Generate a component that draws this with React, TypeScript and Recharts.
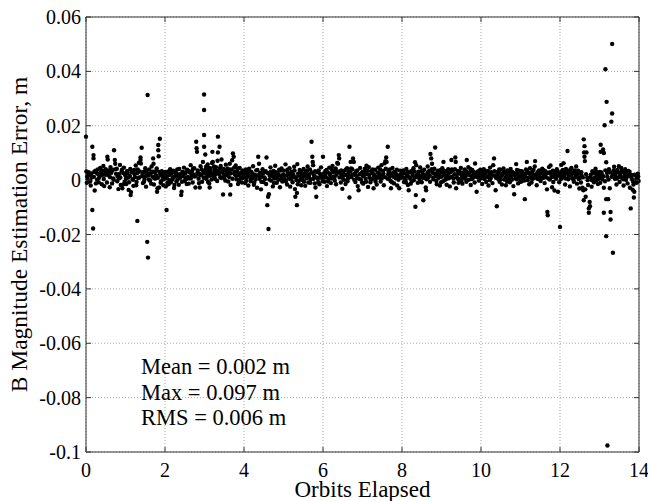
import React from 'react'
import {
  ScatterChart,
  Scatter,
  XAxis,
  YAxis,
  CartesianGrid,
  ReferenceArea,
} from 'recharts'

// B-field magnitude estimation error vs. orbits elapsed (MATLAB-style scatter).
// Points are [orbits, error in mm], one array per orbit.

const orbit0 = [
  [0.0, 16.0], [0.01, 3.2], [0.02, -1.0], [0.04, 0.5], [0.06, 2.1], [0.08, -0.5], [0.1, 1.8], [0.12, -2.0],
  [0.14, 2.5], [0.16, 12.3], [0.16, -11.0], [0.18, -17.8], [0.19, 9.2], [0.19, 8.0], [0.2, 1.2], [0.22, -3.8],
  [0.24, 3.5], [0.26, 2.8], [0.28, 0.2], [0.3, 3.9], [0.32, -0.8], [0.34, 2.2], [0.36, 4.5], [0.38, 3.0],
  [0.4, -1.5], [0.42, 2.0], [0.44, 5.2], [0.46, -2.2], [0.48, 3.3], [0.5, 4.0], [0.52, 2.4], [0.54, 8.6],
  [0.55, 7.6], [0.56, 1.9], [0.58, 3.6], [0.6, -2.6], [0.62, 4.8], [0.64, 2.7], [0.66, -1.2], [0.68, 3.8],
  [0.7, 0.1], [0.71, 11.0], [0.73, 7.4], [0.74, 6.0], [0.76, 2.3], [0.78, 4.2], [0.8, 1.3], [0.82, -3.3],
  [0.84, 0.7], [0.86, 5.6], [0.88, -1.8], [0.9, 3.1], [0.92, -3.0], [0.94, 2.6], [0.96, 4.6], [0.98, -0.6],
  [0.03, 1.4], [0.07, 2.9], [0.11, -0.3], [0.15, 1.0], [0.21, 3.1], [0.25, -1.2], [0.29, 2.3], [0.33, 0.9],
  [0.37, 1.7], [0.41, 3.6], [0.45, 0.4], [0.49, 2.0], [0.53, -0.9], [0.57, 2.6], [0.61, 1.1], [0.65, 3.4],
  [0.69, 0.6], [0.75, 4.0], [0.79, -0.4], [0.83, 2.2], [0.87, 1.0], [0.91, 3.8], [0.95, -1.5], [0.99, 1.9],
]
const orbit1 = [
  [1.0, 2.2], [1.02, -1.4], [1.04, 3.4], [1.06, 0.9], [1.08, -3.6], [1.1, 1.6], [1.12, 4.1], [1.13, -5.5],
  [1.14, -4.4], [1.16, 2.9], [1.18, 0.3], [1.2, -2.1], [1.22, 3.7], [1.24, 1.1], [1.26, 5.4], [1.28, -0.7],
  [1.3, -15.0], [1.3, 2.6], [1.32, 0.8], [1.34, 6.4], [1.36, 3.2], [1.38, 8.3], [1.38, 7.4], [1.39, 6.1],
  [1.41, 11.9], [1.42, 1.5], [1.44, -1.1], [1.46, 3.0], [1.48, 0.4], [1.5, 4.4], [1.52, -2.4], [1.54, 2.1],
  [1.55, -22.7], [1.56, 31.3], [1.57, -28.5], [1.58, 1.7], [1.6, 3.9], [1.62, -0.2], [1.64, 2.5], [1.66, 5.0],
  [1.68, 1.2], [1.7, 8.0], [1.71, 6.0], [1.72, -1.6], [1.74, 2.8], [1.76, 0.6], [1.78, 3.6], [1.8, -4.3],
  [1.81, -3.0], [1.83, 12.9], [1.83, 11.0], [1.84, 8.8], [1.85, -2.7], [1.87, 15.2], [1.88, 2.0], [1.9, -0.4],
  [1.92, 3.3], [1.94, 1.0], [1.96, -1.9], [1.98, 2.7],
  [1.01, 0.5], [1.05, 2.7], [1.09, -0.8], [1.11, 1.3], [1.15, 3.6], [1.19, 0.1], [1.23, 2.2], [1.27, -1.9],
  [1.31, 3.9], [1.35, 1.0], [1.43, 2.8], [1.47, -0.6], [1.51, 1.4], [1.53, 3.4], [1.59, 0.2], [1.61, 2.4],
  [1.65, -1.3], [1.69, 3.1], [1.73, 0.7], [1.77, 1.8], [1.79, 4.3], [1.82, 0.9], [1.86, 3.0], [1.89, -1.0],
  [1.93, 2.1], [1.97, 0.3],
]
const orbit2 = [
  [2.0, 1.4], [2.02, -2.3], [2.04, -11.0], [2.05, 0.6], [2.07, 3.1], [2.09, -1.5], [2.11, 1.9], [2.13, 4.0],
  [2.15, -0.8], [2.17, 2.4], [2.19, 0.2], [2.21, 3.5], [2.23, -2.9], [2.25, 1.3], [2.27, 2.8], [2.29, -0.5],
  [2.31, 3.9], [2.33, 1.7], [2.35, -1.7], [2.37, 2.2], [2.39, 0.9], [2.41, -5.5], [2.42, -4.3], [2.44, 3.0],
  [2.46, 1.5], [2.48, 4.6], [2.5, -0.3], [2.52, 2.6], [2.54, 0.4], [2.56, 3.8], [2.58, 1.2], [2.6, -1.3],
  [2.62, 2.9], [2.65, 5.5], [2.66, 0.8], [2.68, 3.3], [2.7, -0.9], [2.72, 2.1], [2.74, 4.4], [2.77, -2.7],
  [2.78, 1.6], [2.79, 14.1], [2.8, 11.7], [2.81, 10.4], [2.83, 3.6], [2.85, 0.5], [2.87, 2.4], [2.88, -2.7],
  [2.9, 5.1], [2.92, 1.9], [2.94, -0.6], [2.96, 6.7], [2.97, 3.0], [2.99, 12.3], [2.99, 16.6], [2.99, 25.8],
  [2.99, 31.5],
  [2.01, 3.0], [2.03, 0.8], [2.06, -1.0], [2.08, 2.2], [2.12, 0.0], [2.16, 3.3], [2.2, 1.1], [2.24, -1.8],
  [2.28, 2.5], [2.32, 0.3], [2.36, 4.1], [2.4, 1.9], [2.43, -0.6], [2.47, 2.9], [2.51, 1.0], [2.55, -1.4],
  [2.59, 3.5], [2.63, 0.6], [2.67, 2.0], [2.71, 4.2], [2.75, 1.3], [2.82, 2.6], [2.86, -1.1], [2.89, 1.8],
  [2.93, 3.9], [2.98, 0.9],
]
const orbit3 = [
  [3.01, 2.4], [3.02, 9.4], [3.04, 4.9], [3.06, 1.2], [3.08, 5.8], [3.1, 3.1], [3.12, -1.2], [3.13, -2.7],
  [3.15, 4.4], [3.17, 2.0], [3.19, 6.3], [3.2, 10.4], [3.21, 6.7], [3.23, 1.5], [3.25, 3.7], [3.27, 0.4],
  [3.29, 4.8], [3.31, 2.6], [3.33, 7.1], [3.34, 10.2], [3.34, 16.0], [3.36, 3.3], [3.38, 12.3], [3.4, 1.0],
  [3.41, 5.2], [3.43, 7.6], [3.45, 2.9], [3.47, -5.3], [3.48, 4.1], [3.5, 0.6], [3.52, 3.5], [3.54, 5.7],
  [3.56, 1.8], [3.58, 4.3], [3.6, -0.5], [3.62, 2.7], [3.64, 6.0], [3.65, -5.3], [3.66, -1.8], [3.68, 3.9],
  [3.7, 7.3], [3.72, 9.8], [3.74, 8.6], [3.75, 4.6], [3.77, 2.1], [3.79, 5.4], [3.81, 0.3], [3.83, 3.2],
  [3.85, -1.4], [3.87, 1.9], [3.89, 4.5], [3.91, 0.7], [3.93, 2.8], [3.95, -0.9], [3.97, 3.6], [3.99, 1.3],
  [3.03, 3.8], [3.05, 0.4], [3.07, 2.6], [3.09, -0.7], [3.11, 4.5], [3.14, 1.6], [3.16, 3.0], [3.18, 0.2],
  [3.22, 2.4], [3.24, 5.0], [3.26, 1.8], [3.3, 3.4], [3.32, -0.3], [3.37, 2.1], [3.39, 4.4], [3.42, 0.9],
  [3.46, 3.7], [3.49, 1.9], [3.53, -0.2], [3.57, 2.8], [3.61, 4.0], [3.63, 1.1], [3.67, 2.5], [3.71, 0.5],
  [3.76, 3.1], [3.8, 1.6], [3.84, 4.2], [3.88, -0.4], [3.92, 2.3], [3.96, 0.8],
]
const orbit4 = [
  [4.01, 2.3], [4.03, -1.1], [4.05, 3.9], [4.07, 0.8], [4.09, 2.5], [4.11, -2.0], [4.13, 4.2], [4.15, 1.4],
  [4.17, -0.4], [4.19, 3.0], [4.21, 0.9], [4.23, 5.1], [4.25, -1.7], [4.27, 2.0], [4.29, 0.2], [4.31, 3.6],
  [4.33, -2.8], [4.35, 1.8], [4.36, 8.6], [4.38, 6.0], [4.39, 0.5], [4.41, 2.7], [4.43, -3.4], [4.45, 1.2],
  [4.47, 4.0], [4.49, -0.7], [4.51, 2.9], [4.53, 0.4], [4.55, 3.3], [4.57, 8.3], [4.59, -9.2], [4.61, -6.1],
  [4.62, -18.0], [4.63, -5.2], [4.65, 1.6], [4.67, 4.7], [4.69, -0.2], [4.71, 2.2], [4.73, -2.3], [4.75, 3.4],
  [4.77, 0.6], [4.79, 5.3], [4.81, 1.9], [4.83, -1.0], [4.85, 2.6], [4.87, 0.1], [4.89, 3.8], [4.91, -2.6],
  [4.93, 1.5], [4.95, 4.3], [4.97, -0.5], [4.99, 2.1],
  [4.02, 1.0], [4.04, 3.1], [4.06, -0.2], [4.1, 1.7], [4.14, 3.3], [4.18, 0.4], [4.22, 2.3], [4.26, -0.9],
  [4.3, 1.5], [4.34, 3.7], [4.4, 1.3], [4.44, -0.6], [4.48, 2.4], [4.52, 1.0], [4.56, -1.4], [4.6, 2.6],
  [4.64, 0.2], [4.68, 3.1], [4.72, 1.4], [4.76, -1.1], [4.8, 2.9], [4.84, 0.8], [4.88, 1.9], [4.92, 3.5],
  [4.96, 0.3],
]
const orbit5 = [
  [5.01, 3.5], [5.03, 0.2], [5.05, 5.8], [5.07, 1.7], [5.09, -1.6], [5.11, 2.9], [5.13, 0.6], [5.15, 4.4],
  [5.17, -2.4], [5.19, 1.3], [5.21, 3.1], [5.23, -0.8], [5.25, 2.0], [5.27, 4.9], [5.29, -3.3], [5.3, -6.1],
  [5.32, 1.1], [5.34, -9.2], [5.34, -4.7], [5.35, 5.9], [5.37, 2.4], [5.39, -0.3], [5.41, 3.7], [5.43, 0.9],
  [5.45, -1.9], [5.47, 2.6], [5.49, 0.0], [5.51, 4.1], [5.53, 1.5], [5.55, -2.1], [5.57, 3.0], [5.59, 0.7],
  [5.61, 5.0], [5.63, -0.9], [5.65, 2.2], [5.67, 3.9], [5.69, 0.3], [5.71, 14.1], [5.73, 8.6], [5.74, 6.7],
  [5.75, 5.5], [5.77, 1.8], [5.79, -1.2], [5.81, -2.7], [5.83, -6.1], [5.85, 2.9], [5.87, 0.5], [5.89, 3.6],
  [5.91, -1.5], [5.93, 1.2], [5.95, 4.7], [5.97, 2.0], [5.99, -0.4],
  [5.02, 1.6], [5.06, -0.5], [5.1, 3.8], [5.14, 2.2], [5.18, 0.3], [5.22, 2.6], [5.26, 1.0], [5.28, 3.5],
  [5.33, 0.0], [5.36, -1.5], [5.4, 1.8], [5.44, 3.2], [5.48, 1.2], [5.52, -0.6], [5.56, 2.2], [5.6, 3.6],
  [5.64, 1.4], [5.68, -1.0], [5.72, 2.8], [5.76, 0.5], [5.8, 3.3], [5.84, 1.0], [5.88, -0.8], [5.92, 2.4],
  [5.96, 0.9],
]
const orbit6 = [
  [6.0, 8.6], [6.02, 2.5], [6.04, -0.6], [6.06, 3.4], [6.08, 1.0], [6.1, -2.2], [6.12, 2.8], [6.14, 0.4],
  [6.16, 4.6], [6.18, 1.7], [6.2, -1.1], [6.22, 3.9], [6.24, 5.2], [6.26, 1.3], [6.28, 3.1], [6.3, -0.2],
  [6.32, 4.3], [6.34, 2.0], [6.36, 6.3], [6.38, 6.0], [6.4, 9.2], [6.41, 8.0], [6.43, 2.7], [6.45, -0.9],
  [6.47, 1.6], [6.49, -3.2], [6.51, 2.3], [6.53, 0.1], [6.55, 3.5], [6.57, -1.4], [6.59, 1.9], [6.61, 4.4],
  [6.63, 0.6], [6.65, 2.9], [6.67, 12.3], [6.67, -6.4], [6.69, 3.2], [6.7, 6.7], [6.72, 1.1], [6.74, 4.0],
  [6.76, 8.0], [6.78, 6.7], [6.8, 2.4], [6.82, -0.7], [6.84, 3.3], [6.86, 0.8], [6.88, -2.2], [6.9, -3.7],
  [6.92, 2.1], [6.94, 4.5], [6.96, 0.2], [6.98, 2.6],
  [6.01, 0.9], [6.05, 1.8], [6.09, 3.7], [6.13, -0.5], [6.17, 2.5], [6.21, 0.6], [6.25, 2.9], [6.29, 1.0],
  [6.33, -1.5], [6.37, 3.2], [6.42, 1.0], [6.46, 3.6], [6.5, 0.8], [6.54, 2.0], [6.58, 3.9], [6.62, -0.4],
  [6.66, 1.6], [6.71, 4.3], [6.75, 2.0], [6.79, 0.1], [6.83, 1.8], [6.87, 3.6], [6.91, 0.5], [6.95, 2.3],
  [6.99, -0.9],
]
const orbit7 = [
  [7.0, 3.0], [7.02, -1.3], [7.04, 1.8], [7.06, 4.2], [7.08, 0.5], [7.1, 5.3], [7.12, 2.2], [7.14, -2.5],
  [7.16, 4.8], [7.18, 1.0], [7.2, -0.8], [7.22, 3.2], [7.24, 0.3], [7.26, 2.5], [7.28, -3.0], [7.3, 1.4],
  [7.32, 3.8], [7.34, 0.6], [7.36, -1.6], [7.38, 2.7], [7.4, 4.6], [7.42, 0.9], [7.44, 2.0], [7.46, -0.5],
  [7.48, 5.5], [7.5, 1.8], [7.52, 3.4], [7.54, -1.9], [7.56, 6.2], [7.58, 7.0], [7.6, 8.3], [7.61, 6.7],
  [7.64, 12.3], [7.65, 2.1], [7.67, 0.4], [7.69, 3.9], [7.71, -0.3], [7.72, -3.0], [7.74, 2.4], [7.76, 4.5],
  [7.78, 1.2], [7.8, -1.2], [7.82, 3.0], [7.84, 0.7], [7.86, 2.2], [7.88, -2.0], [7.9, 1.5], [7.93, -3.0],
  [7.95, 3.5], [7.97, 0.9], [7.99, 2.3],
  [7.01, 1.5], [7.05, 2.9], [7.09, -0.6], [7.13, 3.5], [7.17, 1.9], [7.21, 0.2], [7.25, 3.9], [7.29, 2.0],
  [7.33, -0.5], [7.37, 1.2], [7.41, 2.8], [7.45, 3.9], [7.49, 0.7], [7.53, 2.4], [7.57, 1.1], [7.59, 4.2],
  [7.63, 0.6], [7.66, 3.2], [7.7, 1.6], [7.75, -0.8], [7.79, 2.9], [7.83, 1.8], [7.87, 3.8], [7.91, 0.1],
  [7.96, 2.0],
]
const orbit8 = [
  [8.01, 1.1], [8.03, 3.6], [8.05, -0.7], [8.07, 2.5], [8.09, 0.2], [8.11, 4.1], [8.13, 1.6], [8.15, -1.8],
  [8.17, -3.7], [8.19, 2.8], [8.21, 0.5], [8.23, 3.3], [8.25, -0.4], [8.27, 1.9], [8.29, 4.4], [8.31, 1.2],
  [8.33, 6.6], [8.34, -9.8], [8.35, -5.5], [8.36, 5.5], [8.38, 2.0], [8.4, -1.0], [8.42, 3.1], [8.44, 0.6],
  [8.46, 4.7], [8.48, 1.4], [8.5, -0.8], [8.52, 2.6], [8.54, -7.4], [8.56, 3.8], [8.58, 0.9], [8.6, -2.7],
  [8.61, -3.7], [8.63, 2.3], [8.65, 5.0], [8.67, 1.0], [8.69, 3.4], [8.71, -0.6], [8.72, 9.6], [8.74, 8.0],
  [8.76, 6.0], [8.78, 2.7], [8.8, 0.3], [8.82, 4.2], [8.84, 12.0], [8.86, 1.5], [8.88, -1.5], [8.9, 3.0],
  [8.92, 0.8], [8.94, 2.1], [8.96, -2.0], [8.98, 3.7],
  [8.02, 2.4], [8.06, 0.8], [8.1, -0.9], [8.14, 3.0], [8.18, 1.1], [8.22, -1.3], [8.26, 2.9], [8.3, 0.0],
  [8.32, 3.2], [8.37, 1.1], [8.41, 2.0], [8.45, -0.3], [8.49, 3.3], [8.53, 0.9], [8.57, 1.8], [8.62, 0.3],
  [8.66, 3.0], [8.7, 1.8], [8.75, 4.0], [8.79, 1.0], [8.83, 2.4], [8.87, -0.3], [8.91, 3.5], [8.95, 1.2],
  [8.99, -0.8],
]
const orbit9 = [
  [9.0, 1.2], [9.02, 4.4], [9.04, -0.4], [9.05, 6.7], [9.07, 2.0], [9.09, 0.1], [9.11, 3.2], [9.13, -1.7],
  [9.15, 1.6], [9.17, 4.0], [9.19, 0.8], [9.21, -2.3], [9.23, 2.9], [9.25, 7.4], [9.27, 1.3], [9.29, 3.6],
  [9.31, -0.9], [9.33, 2.2], [9.35, 8.3], [9.36, 6.7], [9.37, -3.0], [9.39, 1.0], [9.41, 3.4], [9.43, -1.0],
  [9.45, 2.4], [9.47, 0.3], [9.49, 4.5], [9.51, 1.7], [9.53, -1.3], [9.55, 2.8], [9.57, 0.6], [9.59, 3.9],
  [9.61, 1.2], [9.63, -0.6], [9.64, 7.4], [9.66, 2.5], [9.68, 4.8], [9.7, 0.2], [9.72, 2.9], [9.74, -1.8],
  [9.76, 1.4], [9.78, 3.7], [9.8, 0.9], [9.82, 2.0], [9.84, -0.9], [9.85, 6.1], [9.87, 2.6], [9.89, -4.3],
  [9.91, 1.1], [9.93, 3.3], [9.95, -0.2], [9.97, 2.3], [9.99, 0.7],
  [9.01, 2.8], [9.06, 3.5], [9.1, 1.4], [9.14, 0.5], [9.18, 2.6], [9.22, 1.1], [9.26, 3.9], [9.3, 0.6],
  [9.34, 4.0], [9.38, 2.0], [9.42, 0.4], [9.46, 3.1], [9.5, -0.5], [9.54, 1.6], [9.58, 2.3], [9.62, 3.4],
  [9.65, 0.0], [9.69, 2.0], [9.73, 4.1], [9.77, 0.4], [9.81, 3.0], [9.86, 1.3], [9.9, 2.9], [9.94, 1.6],
  [9.98, 3.8],
]
const orbit10 = [
  [10.01, 2.9], [10.03, -1.4], [10.05, 1.5], [10.07, 4.0], [10.09, 0.4], [10.11, 2.6], [10.13, -0.7], [10.15, 3.4],
  [10.17, 1.1], [10.19, -2.0], [10.21, 2.2], [10.23, 4.6], [10.25, 0.8], [10.27, 2.0], [10.29, -1.1], [10.31, 5.5],
  [10.33, 8.0], [10.35, 1.7], [10.37, -3.7], [10.4, -9.6], [10.41, 3.0], [10.43, 0.5], [10.45, 2.7], [10.47, -0.6],
  [10.49, 3.8], [10.51, 1.4], [10.53, -1.6], [10.55, 2.4], [10.57, 4.3], [10.59, 0.2], [10.61, 2.8], [10.63, -1.9],
  [10.65, 1.6], [10.67, 3.6], [10.69, 0.6], [10.71, 2.3], [10.73, -0.8], [10.75, 4.1], [10.77, 1.3], [10.79, 3.0],
  [10.82, -2.2], [10.84, -5.2], [10.86, 1.9], [10.89, 5.9], [10.9, 0.3], [10.92, 2.5], [10.94, -1.2], [10.96, 3.5],
  [10.98, 0.9],
  [10.02, 0.8], [10.06, 2.4], [10.1, 3.5], [10.14, 1.2], [10.18, 3.3], [10.22, 0.0], [10.26, 2.9], [10.3, 1.7],
  [10.34, 3.3], [10.38, 0.9], [10.42, 1.8], [10.46, 3.9], [10.5, 0.3], [10.54, 2.0], [10.58, 3.1], [10.62, 1.0],
  [10.66, -0.5], [10.7, 3.0], [10.74, 1.9], [10.78, 0.1], [10.83, 2.6], [10.87, 0.7], [10.91, 3.7], [10.95, 1.6],
  [10.99, -0.6],
]
const orbit11 = [
  [11.0, 1.8], [11.02, -0.5], [11.04, 3.2], [11.06, 0.7], [11.08, 2.4], [11.11, -7.0], [11.12, 1.2], [11.14, 3.9],
  [11.16, 6.7], [11.18, 0.0], [11.2, 2.6], [11.22, -1.5], [11.24, 4.4], [11.26, 1.4], [11.28, -0.9], [11.3, 3.1],
  [11.32, 0.6], [11.34, 2.0], [11.36, 5.0], [11.37, 7.0], [11.39, 1.7], [11.41, -1.9], [11.43, 2.9], [11.45, 0.4],
  [11.47, 3.6], [11.49, 1.1], [11.51, -0.3], [11.53, 2.5], [11.55, 4.2], [11.57, 0.8], [11.59, 2.2], [11.61, -1.1],
  [11.63, 3.3], [11.65, 1.0], [11.67, -3.4], [11.68, -11.7], [11.69, -12.9], [11.7, 2.7], [11.72, 4.8], [11.74, 0.2],
  [11.76, 5.4], [11.78, 2.0], [11.8, -2.6], [11.82, 3.5], [11.84, 1.3], [11.86, -3.8], [11.88, 2.4], [11.9, 0.5],
  [11.92, 4.0], [11.95, -4.3], [11.96, 1.6], [11.98, -0.8],
  [11.01, 3.3], [11.05, 1.3], [11.09, -0.2], [11.13, 2.3], [11.17, 3.4], [11.21, 1.0], [11.25, 2.7], [11.29, 0.5],
  [11.33, 3.8], [11.38, 1.9], [11.42, 0.6], [11.46, 2.0], [11.5, 3.3], [11.54, 0.9], [11.58, 3.7], [11.62, 1.5],
  [11.66, 2.4], [11.71, 0.6], [11.75, 2.9], [11.79, 1.1], [11.83, -0.7], [11.87, 2.9], [11.91, 1.9], [11.94, 3.3],
  [11.99, 1.8],
]
const orbit12 = [
  [12.0, -17.2], [12.01, 2.3], [12.03, 5.6], [12.05, 0.9], [12.07, 3.7], [12.09, 6.2], [12.11, 1.8], [12.13, -1.6],
  [12.15, 4.1], [12.17, 2.5], [12.19, 10.7], [12.21, 0.3], [12.23, 3.0], [12.25, -2.3], [12.27, 1.9], [12.29, 4.5],
  [12.31, 0.7], [12.33, 2.8], [12.35, -0.6], [12.37, 3.6], [12.39, 1.2], [12.41, 5.0], [12.43, -1.3], [12.45, 2.2],
  [12.47, 0.4], [12.49, -3.1], [12.51, 2.6], [12.53, -0.9], [12.55, 1.5], [12.57, -2.8], [12.59, -3.7], [12.6, -7.4],
  [12.6, 15.0], [12.61, 10.2], [12.62, 12.5], [12.62, 8.6], [12.63, 7.0], [12.64, -3.4], [12.65, -6.1], [12.67, 10.2],
  [12.69, 1.0], [12.71, -1.8], [12.73, -10.4], [12.73, -12.0], [12.75, -8.0], [12.76, -9.6], [12.78, 2.0], [12.8, -2.4],
  [12.82, 3.3], [12.84, 0.6], [12.86, -0.8], [12.88, 2.7], [12.9, 4.2], [12.92, -0.1], [12.94, 1.8], [12.96, -1.4],
  [12.98, 2.3],
  [12.02, 0.3], [12.04, 3.2], [12.06, 1.5], [12.1, 2.8], [12.14, 0.6], [12.18, 3.4], [12.22, 1.5], [12.26, 3.9],
  [12.3, 2.1], [12.34, 0.2], [12.38, 2.6], [12.42, 1.2], [12.46, 3.5], [12.5, 0.8], [12.54, 2.9], [12.58, 1.0],
  [12.66, 2.2], [12.7, 0.0], [12.77, 1.0], [12.81, 0.0], [12.85, 2.5], [12.89, 1.0], [12.93, 3.0], [12.97, 0.4],
]
const orbit13 = [
  [13.0, 1.5], [13.02, -1.0], [13.03, 13.0], [13.03, 10.4], [13.05, 2.8], [13.07, 0.3], [13.09, 11.3], [13.11, 10.0],
  [13.11, -2.8], [13.11, -12.0], [13.13, 20.2], [13.15, 40.8], [13.15, 3.6], [13.17, 6.6], [13.17, -7.0], [13.17, -20.6],
  [13.18, 28.8], [13.2, -97.6], [13.2, 1.2], [13.22, -7.0], [13.24, 4.0], [13.26, -3.0], [13.28, -11.7], [13.28, -14.5],
  [13.3, 21.5], [13.32, 24.5], [13.32, 50.1], [13.34, -26.7], [13.35, 2.2], [13.37, 4.9], [13.39, 0.5], [13.41, 2.9],
  [13.43, -1.6], [13.45, 3.7], [13.47, 1.0], [13.49, 5.1], [13.51, -0.7], [13.53, 2.4], [13.55, 4.5], [13.57, 0.8],
  [13.59, 3.2], [13.61, -2.0], [13.63, 1.6], [13.65, 4.0], [13.67, 0.1], [13.69, 2.6], [13.71, -1.2], [13.73, 3.4],
  [13.75, 1.4], [13.77, -2.8], [13.79, -10.4], [13.8, 2.0], [13.82, 0.4], [13.84, -3.5], [13.86, -1.6], [13.87, -6.4],
  [13.88, -4.3], [13.9, -0.6], [13.92, 1.8], [13.94, -1.0], [13.96, 0.5], [13.98, 1.3], [13.99, -0.3],
  [13.01, 3.0], [13.04, 0.8], [13.06, 2.0], [13.1, 1.4], [13.14, -0.4], [13.19, 2.6], [13.23, 0.2], [13.27, 2.8],
  [13.31, 1.2], [13.36, 3.6], [13.4, 1.9], [13.44, 0.6], [13.48, 2.8], [13.52, 1.5], [13.56, 3.3], [13.6, 0.3],
  [13.64, 2.7], [13.68, 1.0], [13.72, 2.0], [13.76, 3.1], [13.81, 1.5], [13.85, -0.5], [13.89, 2.0], [13.93, 0.4],
  [13.97, 2.4],
]

const xTicks = [0, 2, 4, 6, 8, 10, 12, 14]
const xTickLabels = ['0', '2', '4', '6', '8', '10', '12', '14']
const yTicks = [-0.1, -0.08, -0.06, -0.04, -0.02, 0, 0.02, 0.04, 0.06]
const yTickLabels = ['-0.1', '-0.08', '-0.06', '-0.04', '-0.02', '0', '0.02', '0.04', '0.06']
const stats = ['Mean = 0.002 m', 'Max = 0.097 m', 'RMS = 0.006 m']

const points = [
  ...orbit0, ...orbit1, ...orbit2, ...orbit3, ...orbit4, ...orbit5, ...orbit6,
  ...orbit7, ...orbit8, ...orbit9, ...orbit10, ...orbit11, ...orbit12, ...orbit13,
].map(([orbits, errMm]) => ({ orbits, err: errMm / 1000 }))

const FONT = 'Liberation Serif, Times New Roman, serif'
const W = 648
const H = 501
const PLOT_W = 553
const PLOT_H = 435
const TICK_LEN = 5
const FRAME = '#333'

function XTick({ x, y, payload, index }: any) {
  return (
    <g>
      <line x1={x} x2={x} y1={y} y2={y - TICK_LEN} stroke={FRAME} />
      <line x1={x} x2={x} y1={y - PLOT_H} y2={y - PLOT_H + TICK_LEN} stroke={FRAME} />
      <text x={x} y={y + 11} dy="0.71em" textAnchor="middle" fill="#000" fontSize={20} style={{ fontFamily: FONT }}>
        {xTickLabels[xTicks.indexOf(payload.value)] ?? xTickLabels[index]}
      </text>
    </g>
  )
}

function YTick({ x, y, payload, index }: any) {
  return (
    <g>
      <line x1={x} x2={x + TICK_LEN} y1={y} y2={y} stroke={FRAME} />
      <line x1={x + PLOT_W} x2={x + PLOT_W - TICK_LEN} y1={y} y2={y} stroke={FRAME} />
      <text x={x - 5} y={y} dy="0.35em" textAnchor="end" fill="#000" fontSize={20} style={{ fontFamily: FONT }}>
        {yTickLabels[yTicks.indexOf(payload.value)] ?? yTickLabels[index]}
      </text>
    </g>
  )
}

function YLabel({ viewBox }: any) {
  const cy = viewBox.y + viewBox.height / 2
  return (
    <text
      x={19}
      y={cy}
      transform={`rotate(-90, 19, ${cy})`}
      textAnchor="middle"
      dominantBaseline="central"
      fill="#000"
      fontSize={23.5}
      style={{ fontFamily: FONT }}
    >
      B Magnitude Estimation Error, m
    </text>
  )
}

function XLabel({ viewBox }: any) {
  return (
    <text
      x={viewBox.x + viewBox.width / 2}
      y={viewBox.y + viewBox.height - 4}
      textAnchor="middle"
      fill="#000"
      fontSize={23}
      style={{ fontFamily: FONT }}
    >
      Orbits Elapsed
    </text>
  )
}

function Dot({ cx, cy }: any) {
  return <circle cx={cx} cy={cy} r={2.2} fill="#000" />
}

export default function App() {
  return (
    <div style={{ position: 'absolute', left: 0, top: 0, width: W, height: H, background: '#fff', fontFamily: FONT }}>
      <ScatterChart width={W} height={H} margin={{ top: 17, right: 9, bottom: 0, left: 0 }}>
        <CartesianGrid stroke="#a8a8a8" strokeDasharray="1 2" />
        <XAxis
          type="number"
          dataKey="orbits"
          domain={[0, 14]}
          ticks={xTicks}
          interval={0}
          height={49}
          axisLine={false}
          tickLine={false}
          tickSize={0}
          tickMargin={0}
          tick={<XTick />}
          label={{ content: <XLabel /> }}
        />
        <YAxis
          type="number"
          dataKey="err"
          domain={[-0.1, 0.06]}
          ticks={yTicks}
          interval={0}
          width={86}
          axisLine={false}
          tickLine={false}
          tickSize={0}
          tickMargin={0}
          allowDataOverflow
          tick={<YTick />}
          label={{ content: <YLabel /> }}
        />
        <ReferenceArea x1={0} x2={14} y1={-0.1} y2={0.06} fill="none" stroke={FRAME} strokeOpacity={1} />
        <Scatter data={points} fill="#000" shape={<Dot />} isAnimationActive={false} />
      </ScatterChart>
      <svg width={W} height={H} style={{ position: 'absolute', left: 0, top: 0, pointerEvents: 'none' }}>
        {stats.map((s, i) => (
          <text key={s} x={141} y={374 + i * 25.5} fill="#000" fontSize={22.5} style={{ fontFamily: FONT }}>
            {s}
          </text>
        ))}
      </svg>
    </div>
  )
}
